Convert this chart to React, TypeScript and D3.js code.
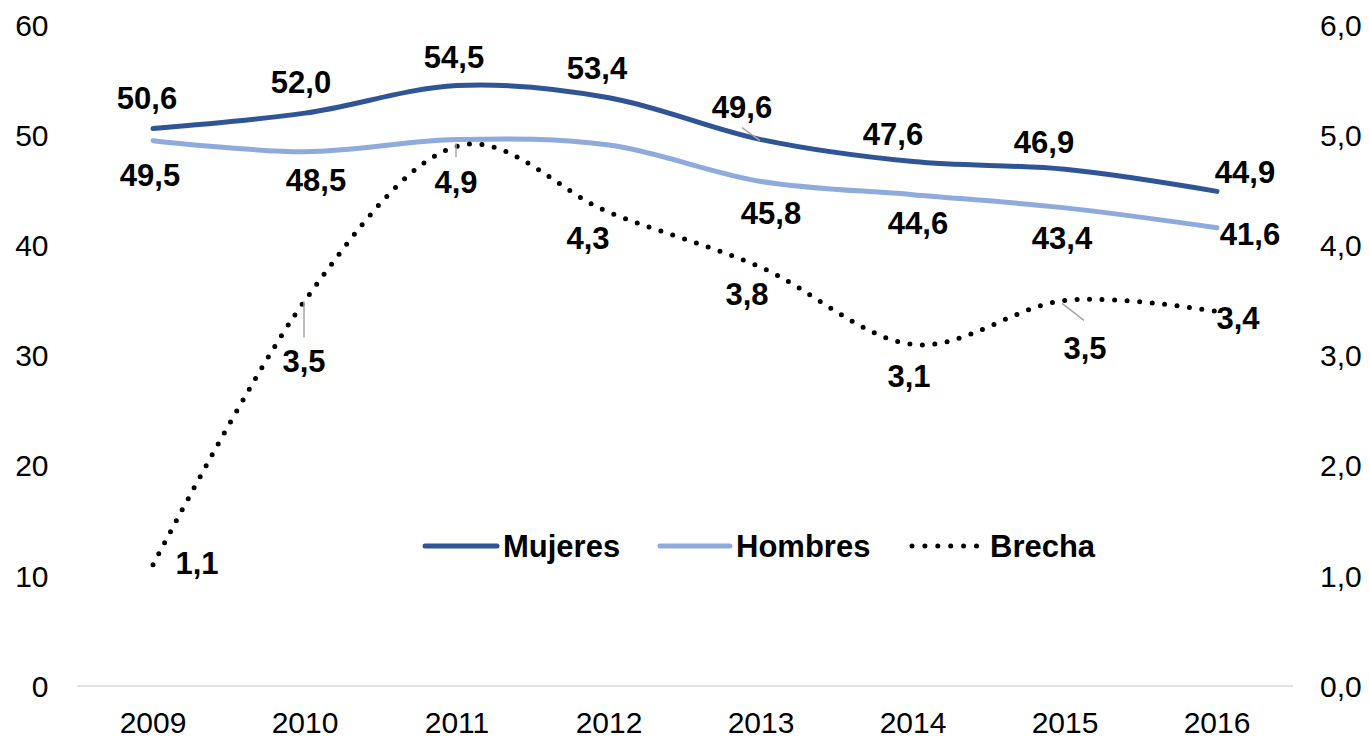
import * as d3 from 'd3';

const years = ['2009', '2010', '2011', '2012', '2013', '2014', '2015', '2016'];
const mujeres = [50.6, 52.0, 54.5, 53.4, 49.6, 47.6, 46.9, 44.9];
const hombres = [49.5, 48.5, 49.6, 49.1, 45.8, 44.6, 43.4, 41.6];
const brecha = [1.1, 3.5, 4.9, 4.3, 3.8, 3.1, 3.5, 3.4];
const leftTicks = [0, 10, 20, 30, 40, 50, 60];
const rightTicks = [0, 1, 2, 3, 4, 5, 6];
const legendNames = ['Mujeres', 'Hombres', 'Brecha'];

const W = 1370,
	H = 739;
const plot = { left: 77, right: 1293, top: 25, bottom: 686 };
const font = "'Liberation Sans', Arial, sans-serif";
const colors = { mujeres: '#2F5597', hombres: '#8FAADC', brecha: '#000000' };

// label offsets from the point (label center), as Excel placed them
const mujeresOff = [[-6, -31], [-4, -31], [-3, -29], [-12, -30], [-19, -33], [-20, -28], [-21, -27], [28, -20]];
const hombresOff = [[-3, 34], [11, 28], null, null, [10, 31], [5, 28], [-3, 30], [33, 6]];
const brechaOff = [[44, -2], [-1, 60], [-1, 36], [-21, 26], [-14, 26], [-4, 31], [20, 47], [21, 6]];
// leader lines: [series, index, dx1, dy1, dx2, dy2]
const leaders: [string, number, number, number, number, number][] = [
	['mujeres', 4, -19, -12, -1, 1],
	['brecha', 1, -1, 1, -1, 37],
	['brecha', 2, -1, -3, -1, 11],
	['brecha', 6, -3, 3, 19, 20],
];

export default function App() {
	const x = d3
		.scalePoint<string>()
		.domain(years)
		.range([plot.left, plot.right])
		.padding(0.5);
	const yL = d3.scaleLinear().domain([0, 60]).range([plot.bottom, plot.top]);
	const yR = d3.scaleLinear().domain([0, 6]).range([plot.bottom, plot.top]);

	const curve = d3.curveCardinal.tension(0);
	const lineL = d3
		.line<number>()
		.x((_, i) => x(years[i])!)
		.y((d) => yL(d))
		.curve(curve);
	const lineR = d3
		.line<number>()
		.x((_, i) => x(years[i])!)
		.y((d) => yR(d))
		.curve(curve);

	const fmt = (v: number) => v.toFixed(1).replace('.', ',');
	const pt = (s: string, i: number): [number, number] => {
		const px = x(years[i])!;
		if (s === 'mujeres') return [px, yL(mujeres[i])];
		if (s === 'hombres') return [px, yL(hombres[i])];
		return [px, yR(brecha[i])];
	};

	const labelText = (key: string, px: number, py: number, txt: string) => (
		<text
			key={key}
			x={px}
			y={py}
			dy="0.36em"
			textAnchor="middle"
			fontFamily={font}
			fontSize={31}
			fontWeight="bold"
			fill="#000"
		>
			{txt}
		</text>
	);

	const legendItems = [
		{ x1: 425, x2: 497, tx: 503, color: colors.mujeres, dotted: false },
		{ x1: 660, x2: 730, tx: 736, color: colors.hombres, dotted: false },
		{ x1: 912, x2: 978, tx: 990, color: colors.brecha, dotted: true },
	];
	const legendY = 546;

	return (
		<svg
			width={W}
			height={H}
			viewBox={`0 0 ${W} ${H}`}
			style={{ position: 'absolute', left: 0, top: 0, background: '#fff' }}
		>
			<rect width={W} height={H} fill="#fff" />
			{/* baseline */}
			<line x1={plot.left} x2={plot.right} y1={plot.bottom} y2={plot.bottom} stroke="#D9D9D9" strokeWidth={1.5} />

			{/* left axis */}
			{leftTicks.map((t) => (
				<text key={'l' + t} x={48.5} y={yL(t)} dy="0.36em" textAnchor="end" fontFamily={font} fontSize={30} fill="#000">
					{t}
				</text>
			))}
			{/* right axis */}
			{rightTicks.map((t) => (
				<text key={'r' + t} x={1320} y={yR(t)} dy="0.36em" textAnchor="start" fontFamily={font} fontSize={30} fill="#000">
					{fmt(t)}
				</text>
			))}
			{/* bottom axis */}
			{years.map((yr) => (
				<text key={yr} x={x(yr)} y={722} dy="0.36em" textAnchor="middle" fontFamily={font} fontSize={30} fill="#000">
					{yr}
				</text>
			))}

			{/* lines */}
			<path d={lineL(hombres)!} fill="none" stroke={colors.hombres} strokeWidth={5} strokeLinecap="round" />
			<path d={lineL(mujeres)!} fill="none" stroke={colors.mujeres} strokeWidth={5} strokeLinecap="round" />
			<path
				d={lineR(brecha)!}
				fill="none"
				stroke={colors.brecha}
				strokeWidth={5}
				strokeLinecap="round"
				strokeDasharray="0 12.5"
			/>

			{/* leader lines */}
			{leaders.map(([s, i, dx1, dy1, dx2, dy2]) => {
				const [px, py] = pt(s, i);
				return (
					<line
						key={s + i}
						x1={px + dx1}
						y1={py + dy1}
						x2={px + dx2}
						y2={py + dy2}
						stroke="#A6A6A6"
						strokeWidth={1.5}
					/>
				);
			})}

			{/* data labels */}
			{mujeres.map((v, i) => {
				const [px, py] = pt('mujeres', i);
				const o = mujeresOff[i];
				return labelText('m' + i, px + o[0], py + o[1], fmt(v));
			})}
			{hombres.map((v, i) => {
				const o = hombresOff[i];
				if (!o) return null;
				const [px, py] = pt('hombres', i);
				return labelText('h' + i, px + o[0], py + o[1], fmt(v));
			})}
			{brecha.map((v, i) => {
				const [px, py] = pt('brecha', i);
				const o = brechaOff[i];
				return labelText('b' + i, px + o[0], py + o[1], fmt(v));
			})}

			{/* legend */}
			{legendItems.map((it, i) => (
				<g key={legendNames[i]}>
					<line
						x1={it.x1}
						x2={it.x2}
						y1={legendY}
						y2={legendY}
						stroke={it.color}
						strokeWidth={5}
						strokeLinecap="round"
						strokeDasharray={it.dotted ? '0 12.9' : undefined}
					/>
					<text x={it.tx} y={legendY} dy="0.36em" fontFamily={font} fontSize={31} fontWeight="bold" fill="#000">
						{legendNames[i]}
					</text>
				</g>
			))}
		</svg>
	);
}
